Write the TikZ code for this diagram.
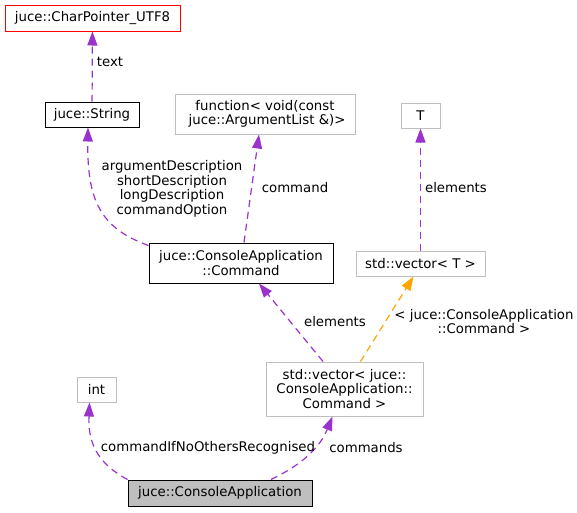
\documentclass[tikz,border=0pt]{standalone}
\usepackage{fontspec}
\setmainfont{DejaVu Sans}
\usetikzlibrary{arrows.meta}
\definecolor{edgepurple}{HTML}{9A32CD}
\definecolor{edgeorange}{HTML}{FFA500}
\definecolor{boxgray}{HTML}{BFBFBF}
\definecolor{boxred}{HTML}{FF0000}

\begin{document}
\begin{tikzpicture}[
  x=1pt, y=-1pt,
  box/.style={draw, align=center, inner sep=0pt, line width=1pt,
              font=\fontsize{13.3}{14.5}\selectfont},
  doc/.style={box, draw=black},
  undoc/.style={box, draw=boxgray},
  lbl/.style={align=center, inner sep=0pt, font=\fontsize{13.3}{14.5}\selectfont},
  arr/.style={-{Triangle[length=14pt, width=10pt]}, edgepurple, line width=1.2pt,
              dash pattern=on 7pt off 5pt},
  tmpl/.style={arr, edgeorange}
]
\useasboundingbox (0,0) rectangle (577,512);
% classes
\node[box, draw=boxred, minimum width=175pt, minimum height=26pt] (cp) at (92.5,18) {juce::CharPointer\_UTF8};
\node[doc, minimum width=94pt, minimum height=25pt] (str) at (92,114.5) {juce::String};
\node[undoc, minimum width=180pt, minimum height=40pt] (func) at (265,114) {function< void(const\\\ juce::ArgumentList \&)>};
\node[undoc, minimum width=39pt, minimum height=25pt] (tp) at (420.5,115.5) {T};
\node[doc, minimum width=184pt, minimum height=40pt] (cmd) at (241,263) {juce::ConsoleApplication\\::Command};
\node[undoc, minimum width=129pt, minimum height=25pt] (vect) at (420.5,263.5) {std::vector< T >};
\node[undoc, minimum width=157pt, minimum height=54pt] (veccmd) at (344.5,389) {std::vector< juce::\\ConsoleApplication::\\Command >};
\node[undoc, minimum width=39pt, minimum height=25pt] (int) at (96.5,389.5) {int};
\node[doc, fill=boxgray, minimum width=184pt, minimum height=26pt] (app) at (220,493) {juce::ConsoleApplication};
% connectors
\draw[arr] (str) -- (cp);
\draw[arr] ([yshift=-3pt]cmd.north west) .. controls (100,228) and (87,200) .. ([xshift=-4pt]str.south);
\draw[arr] ([xshift=3pt]cmd.north) -- ([xshift=-6pt]func.south);
\draw[arr] (vect) -- (tp);
\draw[arr] ([xshift=-21.5pt]veccmd.north) -- ([xshift=18pt]cmd.south);
\draw[tmpl] ([xshift=16pt]veccmd.north) -- ([xshift=-7pt]vect.south);
\draw[arr] (app.north west) .. controls (95,462) and (88,440) .. ([xshift=-7pt]int.south);
\draw[arr] ([xshift=51pt]app.north) .. controls (295,468) and (318,452) .. ([xshift=-12pt]veccmd.south);
% labels
\node[lbl] (ltext) at (110,62) {text};
\node[lbl] (lstr) at (172,189) {argumentDescription\\shortDescription\\longDescription\\commandOption};
\node[lbl] (lcommand) at (295,188) {command};
\node[lbl] (lelemt) at (456,188) {elements};
\node[lbl] (lelemc) at (335,322) {elements};
\node[lbl] (ltmpl) at (484,321.5) {< juce::ConsoleApplication\\::Command >};
\node[lbl] (lnoother) at (208,448) {commandIfNoOthersRecognised};
\node[lbl] (lcmds) at (366,448) {commands};
\end{tikzpicture}
\end{document}
